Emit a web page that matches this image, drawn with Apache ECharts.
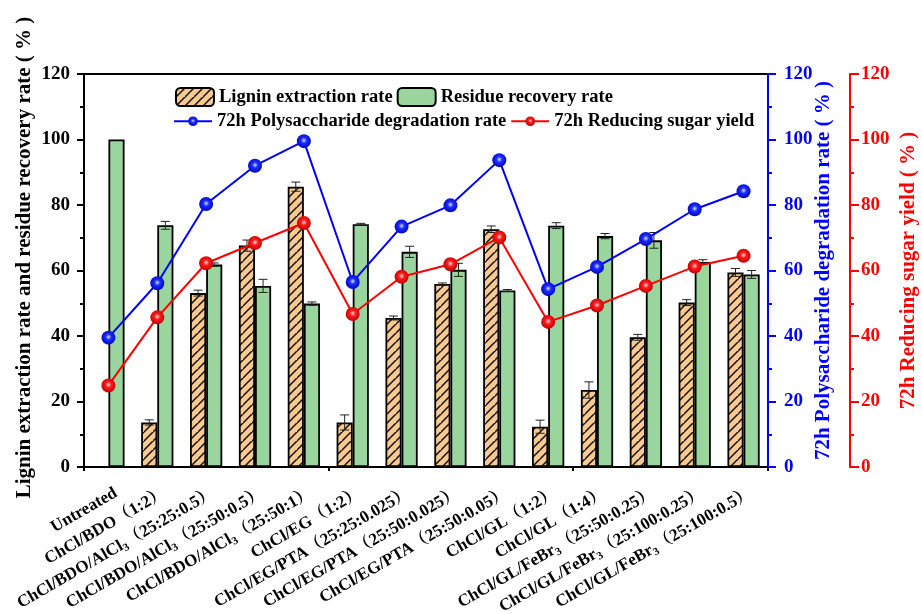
<!DOCTYPE html>
<html>
<head>
<meta charset="utf-8">
<script src="https://cdn.jsdelivr.net/npm/echarts@6/dist/echarts.min.js"></script>
<style>
  html, body { margin: 0; padding: 0; background: #fff; }
  #chart { width: 922px; height: 614px; }
</style>
</head>
<body>
<div id="chart"></div>
<script>
// Pretreatment solvents (rich-text keys give the subscripted "3")
var categories = [
  'Untreated',
  'ChCl/BDO（1:2）',
  'ChCl/BDO/AlCl{s|3}（25:25:0.5）',
  'ChCl/BDO/AlCl{s|3}（25:50:0.5）',
  'ChCl/BDO/AlCl{s|3}（25:50:1）',
  'ChCl/EG（1:2）',
  'ChCl/EG/PTA（25:25:0.025）',
  'ChCl/EG/PTA（25:50:0.025）',
  'ChCl/EG/PTA（25:50:0.05）',
  'ChCl/GL（1:2）',
  'ChCl/GL（1:4）',
  'ChCl/GL/FeBr{s|3}（25:50:0.25）',
  'ChCl/GL/FeBr{s|3}（25:100:0.25）',
  'ChCl/GL/FeBr{s|3}（25:100:0.5）'
];

// Bar values (%) and their error half-widths
var ligninRate   = [null, 13.6, 53.1, 67.6, 85.6, 13.6, 45.5, 55.9, 72.6, 12.3, 23.5, 39.6, 50.2, 59.4];
var ligninErr    = [null,  0.8,  0.9,  1.7,  1.4,  2.3,  0.6,  0.3,  1.0,  2.0,  2.5,  0.9,  0.9,  1.2];
var residueRate  = [100, 73.8, 61.8, 55.3, 49.9, 74.1, 65.7, 60.2, 53.9, 73.7, 70.5, 69.2, 62.6, 58.8];
var residueErr   = [null, 1.2,  0.5,  2.0,  0.5,  0.3,  1.7,  2.0,  0.3,  0.9,  0.8,  2.4,  0.7,  1.2];

// 72 h line values (%)
var polyDegradation = [39.5, 56.1, 80.3, 92.0, 99.5, 56.5, 73.4, 79.9, 93.7, 54.3, 61.1, 69.6, 78.7, 84.2];
var reducingSugar   = [24.9, 45.7, 62.2, 68.4, 74.5, 46.7, 58.1, 61.9, 70.1, 44.3, 49.3, 55.3, 61.2, 64.5];

// Shared 0–120 scale for all three value axes
var axisMin = 0, axisMax = 120, axisStep = 20;
</script>
<script>
var FONT = '"Liberation Serif", "Times New Roman", "Noto Serif CJK SC", serif';

// Hatched fill for the lignin bars
function hatchPattern() {
  var s = 9;
  var c = document.createElement('canvas');
  c.width = s; c.height = s;
  var g = c.getContext('2d');
  g.fillStyle = '#F9C98F';
  g.fillRect(0, 0, s, s);
  g.strokeStyle = '#111';
  g.lineWidth = 1.5;
  g.beginPath();
  g.moveTo(-1, s + 1); g.lineTo(s + 1, -1);
  g.moveTo(-s - 1, s + 1); g.lineTo(1, -1);
  g.moveTo(s - 1, 2 * s + 1); g.lineTo(2 * s + 1, s - 1);
  g.stroke();
  return c;
}

function ballColor(light, mid, dark) {
  return {
    type: 'radial', x: 0.5, y: 0.45, r: 0.6,
    colorStops: [
      { offset: 0, color: light },
      { offset: 0.35, color: mid },
      { offset: 1, color: dark }
    ]
  };
}

// Error bar renderer: offset is a fraction of the category band width
function errorBars(offset) {
  return function (params, api) {
    var idx = api.value(0), v = api.value(1), e = api.value(2);
    if (v == null || isNaN(v) || e == null || isNaN(e)) return null;
    var band = api.size([1, 0])[0];
    var cx = api.coord([idx, v])[0] + offset * band;
    var yt = api.coord([idx, v + e])[1];
    var yb = api.coord([idx, v - e])[1];
    var hw = 4.5;
    var st = { stroke: '#222', lineWidth: 1 };
    return {
      type: 'group',
      children: [
        { type: 'line', shape: { x1: cx, y1: yt, x2: cx, y2: yb }, style: st },
        { type: 'line', shape: { x1: cx - hw, y1: yt, x2: cx + hw, y2: yt }, style: st },
        { type: 'line', shape: { x1: cx - hw, y1: yb, x2: cx + hw, y2: yb }, style: st }
      ]
    };
  };
}

function errData(vals, errs) {
  return vals.map(function (v, i) {
    return (v == null || errs[i] == null) ? [i, '-', '-'] : [i, v, errs[i]];
  });
}

var chart = echarts.init(document.getElementById('chart'), null, { renderer: 'canvas' });

function valueAxis(color, pos, offset, tickLen, labelMargin) {
  return {
    type: 'value', min: axisMin, max: axisMax, interval: axisStep, position: pos, offset: offset,
    splitLine: { show: false },
    axisLine: { show: true, lineStyle: { color: color, width: 2 } },
    axisTick: { show: true, length: tickLen, lineStyle: { color: color, width: 2 } },
    minorTick: { show: true, splitNumber: 2, length: 4, lineStyle: { color: color, width: 2 } },
    axisLabel: { color: color, fontFamily: FONT, fontWeight: 'bold', fontSize: 19, margin: labelMargin },
    nameLocation: 'middle', nameRotate: 90, nameMoveOverlap: false,
    nameTextStyle: { color: color, fontFamily: FONT, fontWeight: 'bold', fontSize: 21 }
  };
}

var yLeft = valueAxis('#000', 'left', 0, 7, 14);
yLeft.name = 'Lignin extraction rate and residue recovery rate ( % )';
yLeft.nameGap = 49;
yLeft.nameTextStyle.padding = [0, 0, 0, 26];

var yBlue = valueAxis('#0000FF', 'right', 0, 8, 16);
yBlue.name = '72h Polysaccharide degradation rate ( % )';
yBlue.nameGap = 45;

var yRed = valueAxis('#FF0000', 'right', 82, 9, 11);
yRed.name = '72h Reducing sugar yield ( % )';
yRed.nameGap = 48;

var legendText = { fontFamily: FONT, fontWeight: 'bold', fontSize: 18.5, color: '#000' };

var option = {
  backgroundColor: '#fff',
  animation: false,
  textStyle: { fontFamily: FONT },
  grid: {
    left: 84, right: 154, top: 74, bottom: 147,
    containLabel: false, outerBoundsMode: 'none',
    show: true, borderColor: '#000', borderWidth: 2, backgroundColor: 'transparent'
  },
  legend: [
    {
      data: ['Lignin extraction rate', 'Residue recovery rate'],
      left: 170, top: 82, itemWidth: 38, itemHeight: 18, itemGap: 4,
      textStyle: legendText
    },
    {
      data: ['72h Polysaccharide degradation rate', '72h Reducing sugar yield'],
      left: 168, top: 107, itemWidth: 38, itemHeight: 12, itemGap: 4,
      textStyle: legendText
    }
  ],
  xAxis: [
    {
      type: 'category', data: categories, boundaryGap: true,
      axisLine: { lineStyle: { color: '#000', width: 2 } },
      axisTick: { alignWithLabel: true, length: 6, lineStyle: { color: '#000', width: 2 } },
      axisLabel: {
        interval: 0, rotate: 30, margin: 12, padding: [30, 0, 0, 0], color: '#000',
        fontFamily: FONT, fontWeight: 'bold', fontSize: 17,
        rich: { s: { fontFamily: FONT, fontWeight: 'bold', fontSize: 11, padding: [9, 0, 0, 0], color: '#000' } }
      }
    },
    {
      type: 'category', data: categories, boundaryGap: true, position: 'bottom',
      axisLine: { show: false },
      axisTick: { show: true, length: 4, lineStyle: { color: '#000', width: 2 } },
      axisLabel: { show: false }
    }
  ],
  yAxis: [yLeft, yBlue, yRed],
  series: [
    {
      name: 'Lignin extraction rate', type: 'bar', xAxisIndex: 0, yAxisIndex: 0,
      data: ligninRate, barWidth: '33%', barGap: '0%',
      itemStyle: { color: { image: hatchPattern(), repeat: 'repeat' }, borderColor: '#000', borderWidth: 1.8 }
    },
    {
      name: 'Residue recovery rate', type: 'bar', xAxisIndex: 0, yAxisIndex: 0,
      data: residueRate, barWidth: '33%', barGap: '0%',
      itemStyle: { color: '#9AD59E', borderColor: '#000', borderWidth: 1.8 }
    },
    {
      name: 'ligninErr', type: 'custom', xAxisIndex: 0, yAxisIndex: 0,
      renderItem: errorBars(-0.165), data: errData(ligninRate, ligninErr), z: 5
    },
    {
      name: 'residueErr', type: 'custom', xAxisIndex: 0, yAxisIndex: 0,
      renderItem: errorBars(0.165), data: errData(residueRate, residueErr), z: 5
    },
    {
      name: '72h Polysaccharide degradation rate', type: 'line', yAxisIndex: 1,
      data: polyDegradation, symbol: 'circle', symbolSize: 14,
      lineStyle: { color: '#0000FF', width: 2 },
      itemStyle: { color: ballColor('#d6dcff', '#1a2cff', '#0000b0'), borderWidth: 0 },
      z: 10
    },
    {
      name: '72h Reducing sugar yield', type: 'line', yAxisIndex: 2,
      data: reducingSugar, symbol: 'circle', symbolSize: 14,
      lineStyle: { color: '#FF0000', width: 2 },
      itemStyle: { color: ballColor('#ffd6d6', '#ff1a1a', '#b00000'), borderWidth: 0 },
      z: 10
    }
  ]
};

chart.setOption(option);
</script>
</body>
</html>
